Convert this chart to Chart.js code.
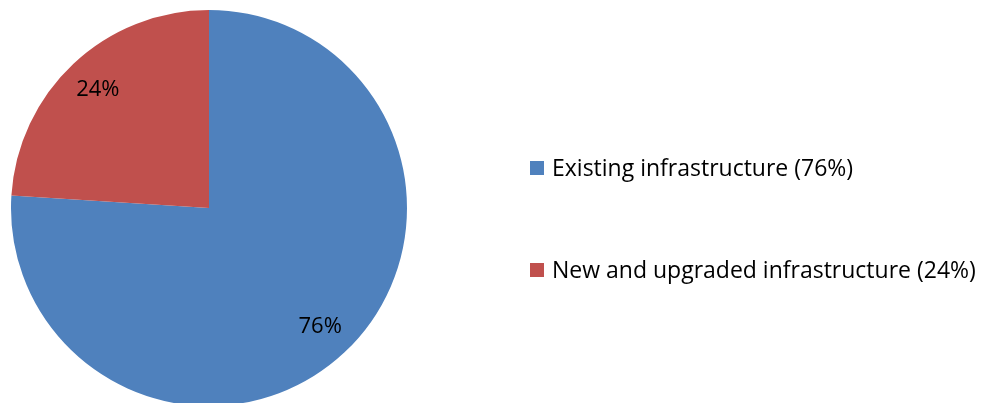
<!DOCTYPE html>
<html>
<head>
<meta charset="utf-8">
<script src="https://cdn.jsdelivr.net/npm/chart.js@4"></script>
<style>
  html, body { margin: 0; padding: 0; background: #fff; overflow: hidden; }
  #wrap { position: relative; width: 989px; height: 420px; }
</style>
</head>
<body>
<div id="wrap"><canvas id="myChart"></canvas></div>
<script>
// share of infrastructure spend
var categories = ['Existing infrastructure', 'New and upgraded infrastructure'];
var shares = [76, 24];
var sliceColors = ['#4F81BD', '#C0504D'];

var FONT = '"Open Sans", "Liberation Sans", sans-serif';

// percentage text inside each slice
var sliceLabels = {
	id: 'sliceLabels',
	afterDatasetsDraw: function(chart){
		var ctx = chart.ctx;
		var meta = chart.getDatasetMeta(0);
		ctx.save();
		ctx.fillStyle = '#000';
		ctx.font = '22px ' + FONT;
		ctx.textAlign = 'center';
		ctx.textBaseline = 'middle';
		meta.data.forEach(function(arc, i){
			var mid = (arc.startAngle + arc.endAngle) / 2;
			var r = arc.outerRadius * 0.82;
			ctx.fillText(shares[i] + '%', arc.x + Math.cos(mid) * r, arc.y + Math.sin(mid) * r);
		});
		ctx.restore();
	}
};

// legend on the right, two rows far apart
var sideLegend = {
	id: 'sideLegend',
	afterDraw: function(chart){
		var ctx = chart.ctx;
		var rows = [168, 270];
		ctx.save();
		ctx.font = '23px ' + FONT;
		ctx.textBaseline = 'middle';
		categories.forEach(function(name, i){
			ctx.fillStyle = sliceColors[i];
			ctx.fillRect(530, rows[i] - 7, 14, 14);
			ctx.fillStyle = '#000';
			ctx.fillText(name + ' (' + shares[i] + '%)', 552, rows[i] + 1);
		});
		ctx.restore();
	}
};

new Chart('myChart', {
	type: 'pie',
	data: {
		labels: categories,
		datasets: [{
			data: shares,
			backgroundColor: sliceColors,
			borderWidth: 0
		}]
	},
	options: {
		responsive: true,
		maintainAspectRatio: false,
		animation: false,
		layout: { padding: { left: 11, top: 10, right: 582, bottom: 14 } },
		plugins: {
			legend: { display: false },
			tooltip: { enabled: false }
		}
	},
	plugins: [sliceLabels, sideLegend]
});
</script>
</body>
</html>
